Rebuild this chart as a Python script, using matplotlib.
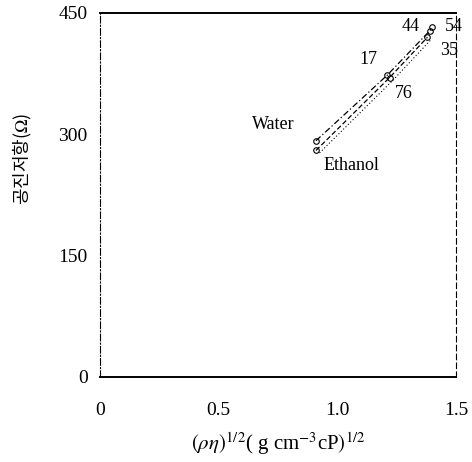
import matplotlib
matplotlib.use("Agg")
import matplotlib.pyplot as plt

plt.rcParams['font.family'] = ['Liberation Serif', 'Noto Sans CJK KR', 'DejaVu Sans']
plt.rcParams['mathtext.fontset'] = 'stix'

# sqrt(rho*eta) and resonance resistance for water, ethanol and their mixtures (wt%)
labels_a = ["Water", "17", "44", "54"]
x_a = [0.91, 1.21, 1.39, 1.40]
y_a = [292, 373, 428, 432]

labels_b = ["Ethanol", "76", "35"]
x_b = [0.91, 1.22, 1.38]
y_b = [280, 370, 420]

x_ticks = [0, 0.5, 1.0, 1.5]
x_ticklabels = ["0", "0.5", "1.0", "1.5"]
y_ticks = [0, 150, 300, 450]

fig = plt.figure(figsize=(4.72, 4.62), dpi=100)
ax = fig.add_axes([0.212, 0.184, 0.754, 0.788])

ax.plot(x_a, y_a, color="black", lw=0.9, ls=(0, (5, 2, 1, 2)),
        marker="o", ms=4, mfc="none", mew=0.8)
ax.plot(x_b, y_b, color="black", lw=0.9, ls=(0, (4, 2)),
        marker="o", ms=4, mfc="none", mew=0.8)
# a third, slightly offset trace of the same branch
ax.plot([x + 0.015 for x in x_b], [y - 3 for y in y_b], color="black",
        lw=0.8, ls=(0, (1, 2)))

ax.set_xlim(0, 1.5)
ax.set_ylim(0, 450)
ax.set_xticks(x_ticks)
ax.set_xticklabels(x_ticklabels)
ax.set_yticks(y_ticks)
ax.tick_params(length=0, labelsize=14, pad=9)
ax.tick_params(axis="x", pad=18)

for side in ("top", "bottom"):
    ax.spines[side].set_linewidth(1.4)
ax.spines["left"].set_linestyle((0, (6, 2, 1, 2)))
ax.spines["left"].set_linewidth(0.8)
ax.spines["right"].set_linestyle((0, (5, 3)))
ax.spines["right"].set_linewidth(0.8)

tfont = dict(fontsize=13, color="black")
ax.text(0.82, 312, "Water", ha="right", va="center", **tfont)
ax.text(0.94, 262, "Ethanol", ha="left", va="center", **tfont)
ax.text(1.13, 393, "17", ha="center", va="center", **tfont)
ax.text(1.28, 350, "76", ha="center", va="center", **tfont)
ax.text(1.31, 433, "44", ha="center", va="center", **tfont)
ax.text(1.49, 433, "54", ha="center", va="center", **tfont)
ax.text(1.47, 403, "35", ha="center", va="center", **tfont)

ax.set_ylabel("공진저항($\\mathit{\\Omega}$)", family=['Noto Sans CJK KR', 'DejaVu Sans'],
              fontsize=13)
ax.yaxis.set_label_coords(-0.185, 0.6)
ax.set_xlabel("$(\\rho\\eta)^{1/2}$( g cm$^{-3}$cP$)^{1/2}$", fontsize=15, labelpad=8)

fig.savefig("out.png", dpi=100)
